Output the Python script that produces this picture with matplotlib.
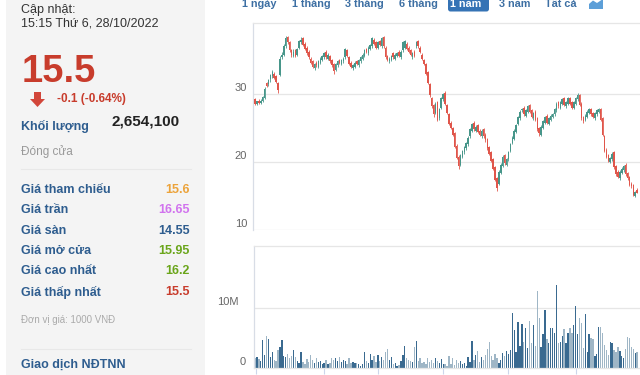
import numpy as np
import matplotlib
matplotlib.use("Agg")
import matplotlib.pyplot as plt
from matplotlib.patches import Rectangle, FancyBboxPatch, Polygon

plt.rcParams['font.family'] = ['Liberation Sans', 'DejaVu Sans']

# ---- dữ liệu giá (nghìn VNĐ), 1 năm ----
opens = [
    29.2, 28.6, 28.9, 28.7, 29.0, 29.4, 31.6, 31.4, 32.2, 32.6,
    33.0, 32.6, 31.6, 32.8, 35.4, 35.8, 37.0, 38.4, 37.6, 36.4,
    35.6, 36.4, 35.8, 36.8, 37.6, 38.2, 37.4, 36.8, 36.2, 35.2,
    34.8, 33.8, 34.6, 34.0, 34.6, 35.0, 35.4, 36.2, 35.2, 35.6,
    35.0, 34.4, 33.6, 34.2, 35.0, 34.4, 34.8, 35.4, 36.4, 35.4,
    34.6, 33.8, 34.0, 34.8, 34.2, 34.8, 35.2, 35.6, 36.6, 36.0,
    36.6, 37.0, 38.0, 37.6, 36.8, 37.8, 37.0, 38.4, 36.8, 35.6,
    34.8, 35.0, 36.0, 35.2, 35.6, 36.2, 35.4, 36.4, 36.8, 37.4,
    36.8, 36.4, 35.4, 36.2, 37.0, 37.8, 36.8, 35.8, 35.0, 34.4,
    33.2, 31.4, 29.4, 28.4, 27.2, 28.8, 26.4, 28.0, 29.2, 30.2,
    28.4, 27.0, 25.8, 25.0, 24.2, 22.4, 20.8, 19.6, 20.8, 21.4,
    22.0, 22.6, 23.8, 24.6, 25.8, 24.6, 25.4, 24.6, 23.8, 24.8,
    24.0, 23.4, 22.2, 21.4, 20.4, 19.2, 17.6, 16.8, 18.4, 19.4,
    21.0, 19.6, 20.4, 21.6, 22.8, 23.4, 24.4, 25.6, 26.4, 27.6,
    28.0, 26.8, 27.4, 28.4, 27.6, 26.4, 27.4, 26.4, 25.0, 24.0,
    25.0, 25.8, 26.8, 25.6, 26.2, 26.6, 27.0, 27.6, 28.8, 28.0,
    28.6, 29.4, 28.2, 28.6, 29.4, 28.8, 28.0, 28.6, 29.2, 29.8,
    28.6, 26.6, 26.2, 26.6, 27.2, 27.8, 27.2, 26.4, 27.0, 27.4,
    27.8, 26.4, 23.8, 21.8, 21.0, 20.0, 20.4, 21.4, 19.4, 18.6,
    17.6, 18.4, 18.8, 19.6, 18.4, 17.8, 16.8, 16.6, 15.0, 15.95,
]
closes = [
    28.6, 28.9, 28.7, 29.0, 29.5, 30.8, 31.2, 32.0, 32.8, 33.2,
    32.4, 31.8, 30.6, 35.2, 35.8, 37.0, 38.2, 37.6, 36.4, 35.8,
    36.2, 35.6, 36.6, 37.8, 38.0, 37.2, 36.6, 36.0, 35.4, 34.6,
    34.0, 34.4, 34.2, 34.8, 35.2, 35.6, 36.0, 35.4, 35.8, 34.8,
    34.2, 33.4, 34.4, 34.8, 34.6, 35.0, 35.2, 36.6, 35.6, 34.4,
    34.0, 34.2, 34.6, 34.4, 35.0, 35.4, 35.8, 36.4, 36.2, 36.8,
    37.2, 38.2, 37.4, 36.8, 37.6, 37.2, 38.2, 37.0, 35.4, 35.0,
    35.2, 35.6, 35.4, 35.8, 36.0, 35.6, 36.2, 37.6, 37.8, 36.6,
    36.2, 35.8, 36.0, 35.6, 37.6, 37.0, 36.2, 35.2, 34.4, 33.0,
    31.6, 29.8, 28.2, 27.0, 28.6, 26.2, 27.8, 29.4, 30.0, 28.6,
    27.2, 25.6, 25.0, 24.0, 22.2, 20.6, 19.4, 21.0, 21.6, 22.2,
    22.8, 23.6, 24.8, 25.6, 24.8, 25.2, 24.4, 24.0, 24.6, 23.8,
    23.2, 22.0, 21.2, 20.2, 19.0, 17.4, 16.2, 18.6, 19.6, 20.8,
    19.8, 20.4, 21.4, 22.6, 23.6, 24.6, 25.4, 26.6, 27.4, 27.8,
    27.0, 27.6, 28.2, 27.4, 26.6, 27.2, 26.2, 24.8, 24.2, 25.2,
    26.0, 26.6, 25.8, 26.4, 26.8, 27.0, 27.8, 28.6, 28.2, 28.8,
    29.2, 28.4, 28.8, 29.4, 28.6, 28.0, 28.8, 29.4, 29.8, 28.4,
    26.4, 26.0, 26.8, 27.4, 27.8, 27.0, 26.6, 27.2, 27.6, 27.8,
    26.2, 24.0, 21.6, 20.8, 20.2, 20.6, 21.2, 19.2, 18.2, 17.8,
    18.6, 19.0, 19.4, 18.2, 17.6, 16.6, 16.4, 15.2, 15.6, 15.5,
]
highs = [
    29.4, 29.0, 29.2, 29.2, 29.7, 31.0, 31.8, 32.2, 33.0, 33.6,
    33.2, 32.8, 31.8, 35.6, 36.2, 37.4, 38.6, 38.6, 37.8, 36.6,
    36.6, 36.6, 36.8, 38.0, 38.4, 38.4, 37.6, 37.0, 36.4, 35.4,
    35.0, 34.6, 34.8, 35.0, 35.4, 35.8, 36.2, 36.4, 36.0, 35.8,
    35.2, 34.6, 34.6, 35.0, 35.2, 35.2, 35.4, 36.8, 36.6, 35.6,
    34.8, 34.4, 34.8, 35.0, 35.2, 35.6, 36.0, 36.6, 36.8, 37.0,
    37.4, 38.4, 38.2, 37.8, 37.8, 38.0, 38.4, 38.6, 37.0, 35.8,
    35.4, 35.8, 36.2, 36.0, 36.2, 36.4, 36.4, 37.8, 38.0, 37.6,
    37.0, 36.6, 36.2, 36.4, 37.8, 38.0, 37.0, 36.0, 35.2, 34.6,
    33.4, 31.6, 29.6, 28.6, 28.8, 29.0, 28.0, 29.6, 30.2, 30.4,
    28.6, 27.2, 26.0, 25.2, 24.4, 22.6, 21.0, 21.2, 21.8, 22.4,
    23.0, 23.8, 25.0, 25.8, 26.0, 25.4, 25.6, 24.8, 24.8, 25.0,
    24.2, 23.6, 22.4, 21.6, 20.6, 19.4, 17.8, 18.8, 19.8, 21.0,
    21.2, 20.6, 21.6, 22.8, 23.8, 24.8, 25.6, 26.8, 27.6, 28.0,
    28.2, 27.8, 28.4, 28.6, 27.8, 27.4, 27.6, 26.6, 25.2, 25.4,
    26.2, 26.8, 27.0, 26.6, 27.0, 27.2, 28.0, 28.8, 29.0, 29.0,
    29.4, 29.6, 29.0, 29.6, 29.6, 29.0, 29.0, 29.6, 30.2, 30.0,
    28.8, 26.8, 27.0, 27.6, 28.0, 28.0, 27.4, 27.4, 27.8, 28.0,
    28.0, 26.6, 24.0, 22.0, 21.2, 20.8, 21.4, 21.6, 19.6, 18.8,
    18.8, 19.2, 19.6, 19.8, 18.6, 18.0, 17.0, 16.8, 15.8, 16.2,
]
lows = [
    28.4, 28.4, 28.5, 28.5, 28.8, 29.2, 31.0, 31.2, 31.8, 32.4,
    32.2, 31.6, 30.2, 32.6, 35.2, 35.6, 36.8, 37.4, 36.2, 35.4,
    35.4, 35.4, 35.6, 36.6, 37.4, 37.0, 36.4, 35.8, 35.2, 34.4,
    33.8, 33.6, 34.0, 33.8, 34.4, 34.8, 35.2, 35.2, 35.0, 34.6,
    34.0, 33.0, 33.4, 34.0, 34.4, 34.2, 34.6, 35.2, 35.4, 34.2,
    33.8, 33.6, 33.8, 34.2, 34.0, 34.6, 35.0, 35.4, 36.0, 35.8,
    36.4, 36.8, 37.2, 36.6, 36.6, 37.0, 36.8, 36.8, 35.2, 34.8,
    34.6, 34.8, 35.2, 35.0, 35.4, 35.4, 35.2, 36.2, 36.6, 36.4,
    36.0, 35.6, 35.2, 35.4, 36.8, 36.8, 36.0, 35.0, 34.2, 32.8,
    31.4, 29.6, 28.0, 26.6, 27.0, 26.0, 26.2, 27.8, 29.0, 28.4,
    27.0, 25.4, 24.8, 23.8, 22.0, 20.4, 19.0, 19.4, 20.6, 21.2,
    21.8, 22.4, 23.6, 24.4, 24.6, 24.4, 24.2, 23.8, 23.6, 23.6,
    23.0, 21.8, 21.0, 20.0, 18.8, 17.2, 15.8, 16.6, 18.2, 19.2,
    19.6, 19.4, 20.2, 21.4, 22.6, 23.2, 24.2, 25.4, 26.2, 27.4,
    26.8, 26.6, 27.2, 27.2, 26.4, 26.2, 26.0, 24.6, 23.8, 23.8,
    24.8, 25.6, 25.6, 25.4, 26.0, 26.4, 26.8, 27.4, 28.0, 27.8,
    28.4, 28.2, 28.0, 28.4, 28.4, 27.8, 27.8, 28.4, 29.0, 28.2,
    26.2, 25.8, 26.0, 26.4, 27.0, 26.8, 26.4, 26.2, 26.8, 27.2,
    26.0, 23.8, 21.4, 20.6, 20.0, 19.8, 20.2, 19.0, 18.0, 17.6,
    17.4, 18.2, 18.6, 18.0, 17.4, 16.4, 16.2, 15.0, 14.8, 15.5,
]
# khối lượng (triệu cp)
volumes = [
    1.6, 1.9, 1.5, 1.2, 4.6, 2.2, 5.3, 4.9, 1.8, 2.6,
    1.4, 1.2, 3.0, 3.5, 4.7, 2.0, 1.8, 2.3, 1.6, 2.0,
    3.0, 1.8, 1.2, 0.8, 2.7, 1.0, 0.6, 1.5, 1.0, 2.2,
    1.3, 0.8, 1.6, 1.0, 1.2, 0.6, 0.9, 1.4, 0.6, 0.8,
    1.7, 1.4, 1.6, 1.2, 1.8, 1.0, 1.3, 1.2, 0.7, 1.6,
    0.8, 1.0, 0.8, 0.9, 0.6, 0.4, 0.7, 2.7, 1.2, 0.8,
    2.4, 1.4, 2.0, 1.0, 2.2, 1.2, 1.8, 1.4, 2.6, 3.2,
    1.4, 1.8, 0.6, 0.9, 0.4, 0.5, 1.2, 2.2, 3.7, 1.6,
    1.4, 1.2, 1.0, 3.5, 4.5, 1.2, 1.6, 0.8, 1.0, 0.7,
    1.6, 1.0, 1.4, 0.8, 1.6, 1.2, 0.9, 1.5, 0.7, 0.6,
    0.4, 2.0, 0.6, 1.6, 0.5, 1.4, 0.8, 1.2, 0.6, 0.9,
    0.4, 1.8, 1.0, 4.5, 1.4, 2.2, 2.8, 1.0, 1.9, 1.4,
    2.1, 3.2, 4.3, 2.0, 1.4, 2.4, 1.6, 0.9, 1.3, 2.5,
    2.0, 2.8, 2.4, 3.0, 9.2, 6.3, 2.6, 7.6, 3.6, 7.3,
    4.4, 6.6, 3.4, 7.8, 4.2, 7.2, 3.6, 12.8, 8.3, 3.5,
    5.6, 9.6, 4.8, 4.2, 6.6, 6.6, 5.8, 13.8, 4.1, 4.4,
    5.3, 6.5, 4.2, 5.8, 6.6, 5.9, 7.1, 10.3, 5.7, 8.4,
    7.5, 3.4, 9.0, 2.7, 5.6, 5.0, 4.8, 2.0, 2.4, 6.8,
    6.8, 5.8, 3.8, 3.0, 2.2, 4.4, 4.2, 3.0, 2.6, 3.5,
    2.8, 2.0, 1.6, 3.2, 5.2, 5.0, 3.5, 3.1, 2.5, 2.6541,
]

# bảng thông tin bên trái
info_labels = ["Giá tham chiếu", "Giá trần", "Giá sàn", "Giá mở cửa", "Giá cao nhất", "Giá thấp nhất"]
info_values = ["15.6", "16.65", "14.55", "15.95", "16.2", "15.5"]
info_colors = ["#eca33a", "#d173ee", "#2e5d8f", "#6aa51a", "#6aa51a", "#c83c2c"]
range_buttons = ["1 ngày", "1 tháng", "3 tháng", "6 tháng", "1 năm", "3 năm", "Tất cả"]

BLUE = "#2e5d8f"
RED = "#c83c2c"
UP = "#47968a"
DOWN = "#e0564b"
GRID = "#e6e6e6"

fig = plt.figure(figsize=(6.4, 3.75), dpi=100)

# lớp nền toạ độ pixel cho phần chữ
bg = fig.add_axes([0, 0, 1, 1], zorder=0)
bg.set_xlim(0, 640)
bg.set_ylim(375, 0)
bg.axis("off")
bg.add_patch(Rectangle((6, -5), 199, 385, color="#f4f4f4", lw=0))

bg.text(21, 10, "Cập nhật:", fontsize=9, color="#333333", va="center")
bg.text(21, 24, "15:15 Thứ 6, 28/10/2022", fontsize=9, color="#333333", va="center")
bg.text(22, 82, "15.5", fontsize=27.5, fontweight="bold", color=RED, va="baseline")
bg.add_patch(Polygon([(34, 92), (41, 92), (41, 99), (45, 99), (37.5, 107), (30, 99), (34, 99)],
                     closed=True, color="#d2463a", lw=0))
bg.text(57, 99, "-0.1 (-0.64%)", fontsize=8.5, fontweight="bold", color=RED, va="center")
bg.text(21, 126, "Khối lượng", fontsize=9, fontweight="bold", color=BLUE, va="center")
bg.text(112, 122, "2,654,100", fontsize=11, fontweight="bold", color="#222222", va="center")
bg.text(21, 152, "Đóng cửa", fontsize=8.5, color="#999999", va="center")
bg.plot([21, 191], [169, 169], color="#e8e8e8", lw=0.8)

row_y = [190, 210, 230.5, 251, 271, 292]
for lab, val, col, yy in zip(info_labels, info_values, info_colors, row_y):
    bg.text(21, yy, lab, fontsize=9, fontweight="bold", color=BLUE, va="center")
    bg.text(190, yy, val, fontsize=9, fontweight="bold", color=col, va="center", ha="right")

bg.text(21, 320, "Đơn vị giá: 1000 VNĐ", fontsize=7, color="#aaaaaa", va="center")
bg.plot([21, 191], [349, 349], color="#e8e8e8", lw=0.8)
bg.text(21, 365, "Giao dịch NĐTNN", fontsize=9, fontweight="bold", color=BLUE, va="center")

# nút chọn khoảng thời gian
btn_x = [242, 292, 345, 399, 450, 499, 545]
bg.add_patch(FancyBboxPatch((448, -4), 41, 15.5, boxstyle="round,pad=0,rounding_size=2.5",
                            color="#3573b5", lw=0))
for lab, xx in zip(range_buttons, btn_x):
    c = "white" if lab == "1 năm" else "#3d6fa3"
    bg.text(xx, 4, lab, fontsize=7.8, fontweight="bold", color=c, va="center")
bg.add_patch(Polygon([(589, 9), (589, 4), (593, 0.5), (597, 3), (603, -1), (603, 9)],
                     closed=True, color="#5c9fd8", lw=0))

x = np.arange(len(closes))
o = np.array(opens)
c = np.array(closes)
cols = [UP if cc >= oo else DOWN for oo, cc in zip(o, c)]

# biểu đồ nến
ax = fig.add_axes([253 / 640, 145 / 375, 387 / 640, 207 / 375], zorder=1)
ax.set_xlim(-1.04, 200.5)
ax.set_ylim(10, 10 + 207 / 6.8)
ax.vlines(x, lows, highs, colors=cols, lw=0.6, zorder=2)
h = c - o
h = np.where(np.abs(h) < 0.15, 0.15 * np.sign(h + 1e-9), h)
ax.bar(x, h, bottom=o, width=0.8, color=cols, lw=0, zorder=3)
for v in [10, 20, 30]:
    ax.axhline(v, color=GRID, lw=0.9, zorder=1)
    ax.annotate(str(v), xy=(0, v), xycoords=ax.get_yaxis_transform(), xytext=(-4.3, 4.3),
                textcoords="offset points", ha="right", va="center", fontsize=8, color="#666666",
                annotation_clip=False)
ax.set_xticks([])
ax.set_yticks([])
for s in ["right", "bottom"]:
    ax.spines[s].set_visible(False)
ax.spines["top"].set_color(GRID)
ax.spines["left"].set_color("#d8dde6")
ax.spines["top"].set_linewidth(0.9)
ax.spines["left"].set_linewidth(0.9)

# biểu đồ khối lượng
av = fig.add_axes([254 / 640, 7 / 375, 386 / 640, 122 / 375], zorder=1)
av.set_xlim(-0.52, 200.5)
av.set_ylim(0, 122 / 6.0)
vcols = ["#3a6a90" if cc >= oo else "#9fb6c6" for oo, cc in zip(o, c)]
av.bar(x, volumes, width=0.7, color=vcols, lw=0, zorder=2)
av.axhline(10, color=GRID, lw=0.9, zorder=1)
for v, lab, dx in [(0, "0", -5.8), (10, "10M", -10.8)]:
    av.annotate(lab, xy=(0, v), xycoords=av.get_yaxis_transform(), xytext=(dx, 4.3),
                textcoords="offset points", ha="right", va="center", fontsize=8, color="#666666",
                annotation_clip=False)
av.set_yticks([])
av.set_xticks([0.5, 36, 64, 98, 132, 167])
av.set_xticklabels([])
av.tick_params(axis="x", length=4, width=0.8, color="#ccd6eb")
av.spines["right"].set_visible(False)
for s in ["top", "bottom"]:
    av.spines[s].set_color(GRID)
    av.spines[s].set_linewidth(0.9)
av.spines["left"].set_color("#d8dde6")
av.spines["left"].set_linewidth(0.9)

fig.savefig("out.png", dpi=100)
